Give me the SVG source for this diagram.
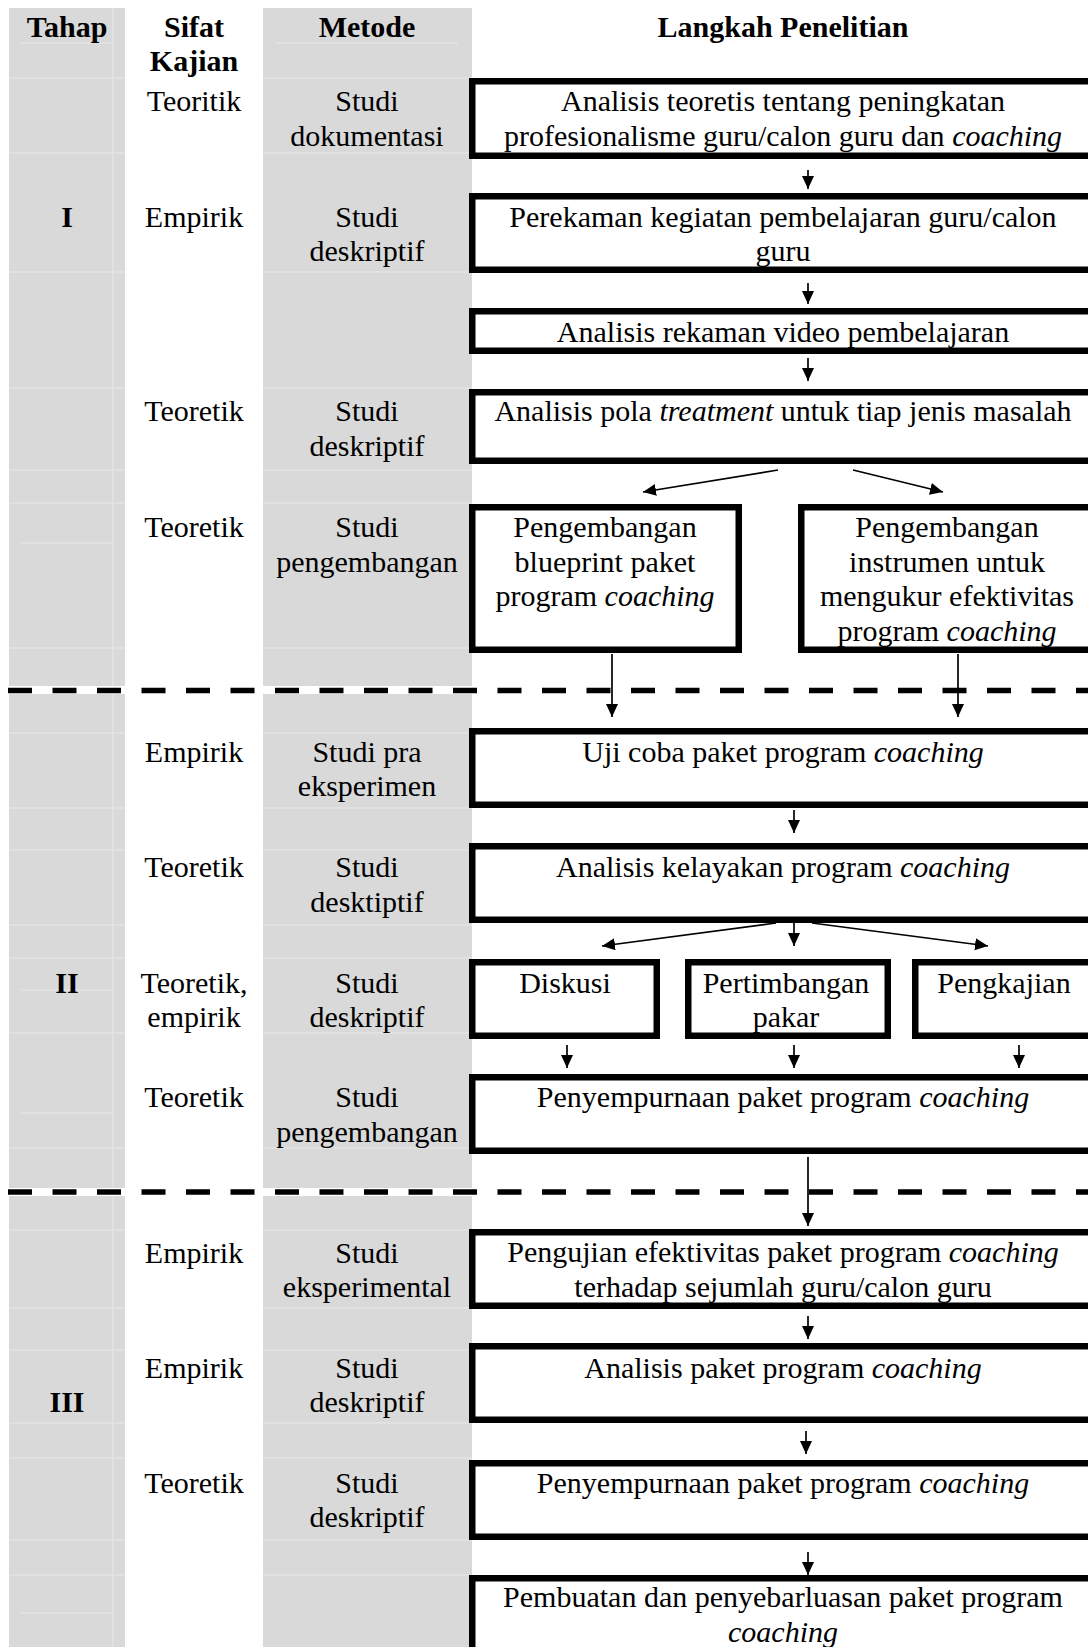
<svg xmlns="http://www.w3.org/2000/svg" width="1088" height="1647" viewBox="0 0 1088 1647">
<style>
.t{font-family:"Liberation Serif","Times New Roman",serif;font-size:30px;fill:#000;text-anchor:middle}
.b{font-weight:bold}
.i{font-style:italic}
.box{fill:#fff;stroke:#000;stroke-width:6.5}
.conn{stroke:#000;stroke-width:1.7;fill:none}
.dash{stroke:#000;stroke-width:5.5;stroke-dasharray:24 20.5;fill:none}
.gray{fill:#d9d9d9}
.faint{stroke:#e3e3e3;stroke-width:1.5;fill:none}
</style>
<defs>
<marker id="ah" markerUnits="userSpaceOnUse" markerWidth="14" markerHeight="13" refX="13" refY="6" orient="auto">
<path d="M0,0 L13,6 L0,12 z" fill="#000"/>
</marker>
</defs>
<rect x="0" y="0" width="1088" height="1647" fill="#fff"/>
<g id="columns">
<rect class="gray" x="9" y="8" width="116" height="1639"/>
<rect class="gray" x="263" y="8" width="209" height="1639"/>
<path class="faint" d="M113,8V1647 M21,43H113 M276,43H458 M9,78H125 M263,78H472 M9,153H125 M263,153H472 M9,272H125 M263,272H472 M9,388H125 M263,388H472 M9,470H125 M263,470H472 M9,503H125 M263,503H472 M21,543H113 M9,648H125 M263,648H472 M9,733H125 M263,733H472 M9,808H125 M263,808H472 M9,850H125 M263,850H472 M9,925H125 M263,925H472 M9,958H125 M263,958H472 M21,990H113 M9,1033H125 M263,1033H472 M21,1113H113 M9,1148H125 M263,1148H472 M9,1230H125 M263,1230H472 M9,1308H125 M263,1308H472 M9,1350H125 M263,1350H472 M9,1423H125 M263,1423H472 M9,1458H125 M263,1458H472 M9,1540H125 M263,1540H472 M9,1575H125 M263,1575H472 M21,1613H113"/>
<rect x="0" y="686" width="1088" height="8" fill="#fff"/>
<rect x="0" y="1188" width="1088" height="8" fill="#fff"/>
</g>
<g id="header">
<text class="t b" x="67" y="37">Tahap</text>
<text class="t b" x="194" y="37">Sifat</text>
<text class="t b" x="194" y="71">Kajian</text>
<text class="t b" x="367" y="37">Metode</text>
<text class="t b" x="783" y="37">Langkah Penelitian</text>
</g>
<g id="phases">
<text class="t b" x="67" y="227">I</text>
<text class="t b" x="67" y="993">II</text>
<text class="t b" x="67" y="1412">III</text>
</g>
<g id="sifat">
<text class="t" x="194" y="111">Teoritik</text>
<text class="t" x="194" y="227">Empirik</text>
<text class="t" x="194" y="421">Teoretik</text>
<text class="t" x="194" y="537">Teoretik</text>
<text class="t" x="194" y="762">Empirik</text>
<text class="t" x="194" y="877">Teoretik</text>
<text class="t" x="194" y="993">Teoretik,</text>
<text class="t" x="194" y="1027">empirik</text>
<text class="t" x="194" y="1107">Teoretik</text>
<text class="t" x="194" y="1263">Empirik</text>
<text class="t" x="194" y="1378">Empirik</text>
<text class="t" x="194" y="1493">Teoretik</text>
</g>
<g id="metode">
<text class="t" x="367" y="111">Studi</text>
<text class="t" x="367" y="146">dokumentasi</text>
<text class="t" x="367" y="227">Studi</text>
<text class="t" x="367" y="261">deskriptif</text>
<text class="t" x="367" y="421">Studi</text>
<text class="t" x="367" y="456">deskriptif</text>
<text class="t" x="367" y="537">Studi</text>
<text class="t" x="367" y="572">pengembangan</text>
<text class="t" x="367" y="762">Studi pra</text>
<text class="t" x="367" y="796">eksperimen</text>
<text class="t" x="367" y="877">Studi</text>
<text class="t" x="367" y="912">desktiptif</text>
<text class="t" x="367" y="993">Studi</text>
<text class="t" x="367" y="1027">deskriptif</text>
<text class="t" x="367" y="1107">Studi</text>
<text class="t" x="367" y="1142">pengembangan</text>
<text class="t" x="367" y="1263">Studi</text>
<text class="t" x="367" y="1297">eksperimental</text>
<text class="t" x="367" y="1378">Studi</text>
<text class="t" x="367" y="1412">deskriptif</text>
<text class="t" x="367" y="1493">Studi</text>
<text class="t" x="367" y="1527">deskriptif</text>
</g>
<g id="dividers">
<line class="dash" x1="8" y1="690.5" x2="1088" y2="690.5"/>
<line class="dash" x1="8" y1="1192" x2="1088" y2="1192"/>
</g>
<g id="n1"><rect class="box" x="472.25" y="81.25" width="640" height="74.5"/>
<text class="t" x="783" y="111">Analisis teoretis tentang peningkatan</text>
<text class="t" x="783" y="146">profesionalisme guru/calon guru dan <tspan class="i">coaching</tspan></text></g>
<g id="n2"><rect class="box" x="472.25" y="196.25" width="640" height="73.5"/>
<text class="t" x="783" y="227">Perekaman kegiatan pembelajaran guru/calon</text>
<text class="t" x="783" y="261">guru</text></g>
<g id="n3"><rect class="box" x="472.25" y="311.25" width="640" height="39.5"/>
<text class="t" x="783" y="342">Analisis rekaman video pembelajaran</text></g>
<g id="n4"><rect class="box" x="472.25" y="392.25" width="640" height="68.5"/>
<text class="t" x="783" y="421">Analisis pola <tspan class="i">treatment</tspan> untuk tiap jenis masalah</text></g>
<g id="n5a"><rect class="box" x="472.25" y="507.25" width="266.5" height="142.5"/>
<text class="t" x="605" y="537">Pengembangan</text>
<text class="t" x="605" y="572">blueprint paket</text>
<text class="t" x="605" y="606">program <tspan class="i">coaching</tspan></text></g>
<g id="n5b"><rect class="box" x="801.25" y="507.25" width="320" height="142.5"/>
<text class="t" x="947" y="537">Pengembangan</text>
<text class="t" x="947" y="572">instrumen untuk</text>
<text class="t" x="947" y="606">mengukur efektivitas</text>
<text class="t" x="947" y="641">program <tspan class="i">coaching</tspan></text></g>
<g id="n6"><rect class="box" x="472.25" y="731.25" width="640" height="73.5"/>
<text class="t" x="783" y="762">Uji coba paket program <tspan class="i">coaching</tspan></text></g>
<g id="n7"><rect class="box" x="472.25" y="846.25" width="640" height="73.5"/>
<text class="t" x="783" y="877">Analisis kelayakan program <tspan class="i">coaching</tspan></text></g>
<g id="n8a"><rect class="box" x="472.25" y="962.25" width="184.5" height="73.5"/>
<text class="t" x="565" y="993">Diskusi</text></g>
<g id="n8b"><rect class="box" x="688.25" y="962.25" width="199.5" height="73.5"/>
<text class="t" x="786" y="993">Pertimbangan</text>
<text class="t" x="786" y="1027">pakar</text></g>
<g id="n8c"><rect class="box" x="915.25" y="962.25" width="200" height="73.5"/>
<text class="t" x="1004" y="993">Pengkajian</text></g>
<g id="n9"><rect class="box" x="472.25" y="1077.25" width="640" height="73.5"/>
<text class="t" x="783" y="1107">Penyempurnaan paket program <tspan class="i">coaching</tspan></text></g>
<g id="n10"><rect class="box" x="472.25" y="1232.25" width="640" height="73.5"/>
<text class="t" x="783" y="1262">Pengujian efektivitas paket program <tspan class="i">coaching</tspan></text>
<text class="t" x="783" y="1297">terhadap sejumlah guru/calon guru</text></g>
<g id="n11"><rect class="box" x="472.25" y="1346.25" width="640" height="73.5"/>
<text class="t" x="783" y="1378">Analisis paket program <tspan class="i">coaching</tspan></text></g>
<g id="n12"><rect class="box" x="472.25" y="1463.25" width="640" height="73.5"/>
<text class="t" x="783" y="1493">Penyempurnaan paket program <tspan class="i">coaching</tspan></text></g>
<g id="n13"><rect class="box" x="472.25" y="1578.25" width="640" height="200"/>
<text class="t" x="783" y="1607">Pembuatan dan penyebarluasan paket program</text>
<text class="t i" x="783" y="1642">coaching</text></g>
<g id="connectors">
<line class="conn" marker-end="url(#ah)" x1="808" y1="170" x2="808" y2="189"/>
<line class="conn" marker-end="url(#ah)" x1="808" y1="283" x2="808" y2="304"/>
<line class="conn" marker-end="url(#ah)" x1="808" y1="358" x2="808" y2="381"/>
<line class="conn" marker-end="url(#ah)" x1="778" y1="470" x2="643" y2="492"/>
<line class="conn" marker-end="url(#ah)" x1="853" y1="470" x2="943" y2="492"/>
<line class="conn" marker-end="url(#ah)" x1="612" y1="654" x2="612" y2="717"/>
<line class="conn" marker-end="url(#ah)" x1="958" y1="654" x2="958" y2="717"/>
<line class="conn" marker-end="url(#ah)" x1="794" y1="810" x2="794" y2="833"/>
<line class="conn" marker-end="url(#ah)" x1="794" y1="923" x2="794" y2="946"/>
<line class="conn" marker-end="url(#ah)" x1="776" y1="923" x2="602" y2="946"/>
<line class="conn" marker-end="url(#ah)" x1="812" y1="923" x2="988" y2="946"/>
<line class="conn" marker-end="url(#ah)" x1="567" y1="1045" x2="567" y2="1068"/>
<line class="conn" marker-end="url(#ah)" x1="794" y1="1045" x2="794" y2="1068"/>
<line class="conn" marker-end="url(#ah)" x1="1019" y1="1045" x2="1019" y2="1068"/>
<line class="conn" marker-end="url(#ah)" x1="808" y1="1157" x2="808" y2="1226"/>
<line class="conn" marker-end="url(#ah)" x1="808" y1="1316" x2="808" y2="1339"/>
<line class="conn" marker-end="url(#ah)" x1="806" y1="1431" x2="806" y2="1454"/>
<line class="conn" marker-end="url(#ah)" x1="808" y1="1552" x2="808" y2="1575"/>
</g>
</svg>
